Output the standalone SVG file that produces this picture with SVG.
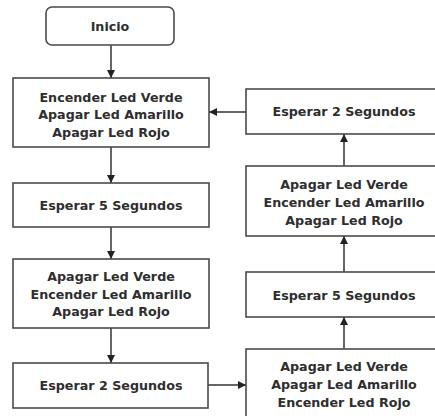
<svg xmlns="http://www.w3.org/2000/svg" width="435" height="416" viewBox="0 0 435 416">
<defs>
<style>
.box{fill:#fff;stroke:#4a4a4a;stroke-width:1.6}
.t{font-family:"DejaVu Sans",Verdana,sans-serif;font-weight:bold;font-size:12.7px;fill:#2e2e2e;text-anchor:middle}
.c{fill:none;stroke:#333;stroke-width:1.5;marker-end:url(#ah)}
</style>
<marker id="ah" viewBox="0 0 10 10" refX="10" refY="5" markerWidth="8" markerHeight="8" markerUnits="userSpaceOnUse" orient="auto">
<path d="M0,0 L10,5 L0,10 Z" fill="#222"/>
</marker>
</defs>
<rect width="435" height="416" fill="#fff"/>
<g id="connectors">
<path class="c" d="M111,45 V78"/>
<path class="c" d="M111,147 V183"/>
<path class="c" d="M111,227 V259"/>
<path class="c" d="M111,328 V363"/>
<path class="c" d="M208,385 H246"/>
<path class="c" d="M344,349 V317"/>
<path class="c" d="M344,272 V236"/>
<path class="c" d="M344,166 V134"/>
<path class="c" d="M246,112 H209"/>
</g>
<g id="inicio">
<rect class="box" x="46" y="7" width="128" height="38" rx="6"/>
<text class="t" x="110" y="30.5">Inicio</text>
</g>
<g id="l1">
<rect class="box" x="13" y="78" width="196" height="69"/>
<text class="t" x="111" y="101.5">Encender Led Verde</text>
<text class="t" x="111" y="119">Apagar Led Amarillo</text>
<text class="t" x="111" y="136.5">Apagar Led Rojo</text>
</g>
<g id="l2">
<rect class="box" x="13" y="183" width="196" height="44"/>
<text class="t" x="111" y="209.5">Esperar 5 Segundos</text>
</g>
<g id="l3">
<rect class="box" x="13" y="259" width="196" height="69"/>
<text class="t" x="111" y="281">Apagar Led Verde</text>
<text class="t" x="111" y="298.5">Encender Led Amarillo</text>
<text class="t" x="111" y="316">Apagar Led Rojo</text>
</g>
<g id="l4">
<rect class="box" x="13" y="363" width="195" height="45"/>
<text class="t" x="111" y="389.5">Esperar 2 Segundos</text>
</g>
<g id="r4">
<rect class="box" x="246" y="349" width="196" height="70"/>
<text class="t" x="344" y="371">Apagar Led Verde</text>
<text class="t" x="344" y="389">Apagar Led Amarillo</text>
<text class="t" x="344" y="407">Encender Led Rojo</text>
</g>
<g id="r3">
<rect class="box" x="246" y="272" width="196" height="45"/>
<text class="t" x="344" y="300">Esperar 5 Segundos</text>
</g>
<g id="r2">
<rect class="box" x="246" y="166" width="196" height="70"/>
<text class="t" x="344" y="189">Apagar Led Verde</text>
<text class="t" x="344" y="207">Encender Led Amarillo</text>
<text class="t" x="344" y="225">Apagar Led Rojo</text>
</g>
<g id="r1">
<rect class="box" x="246" y="89" width="196" height="45"/>
<text class="t" x="344" y="116">Esperar 2 Segundos</text>
</g>
</svg>
